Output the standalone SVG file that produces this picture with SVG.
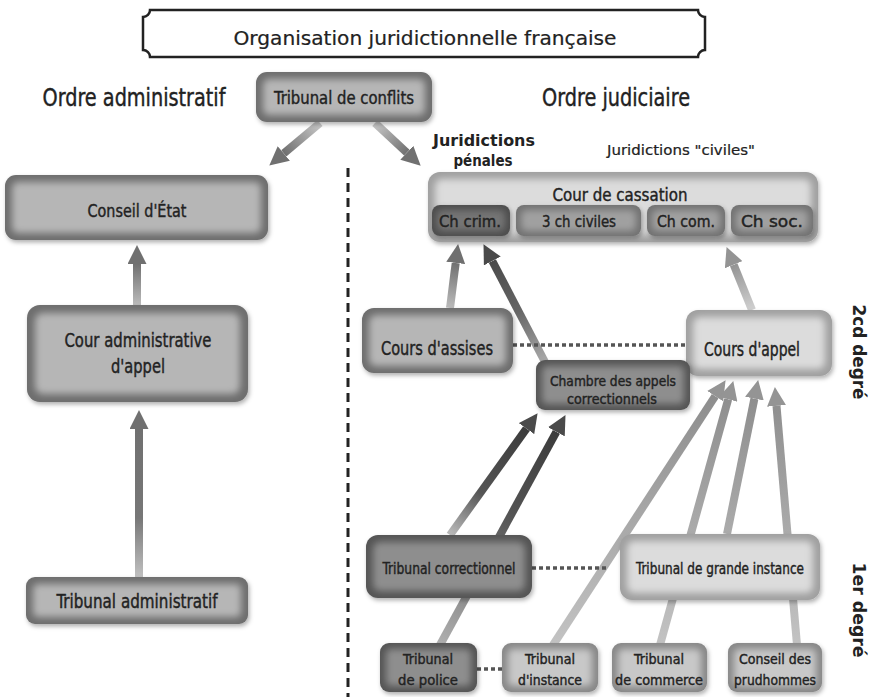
<svg xmlns="http://www.w3.org/2000/svg" width="870" height="697" viewBox="0 0 870 697">
<defs>
<style>
text{font-family:"DejaVu Sans Condensed","DejaVu Sans",sans-serif;fill:#222;stroke:#222;stroke-width:0.4;text-anchor:middle}
.b{font-family:"DejaVu Sans",sans-serif;font-weight:bold;stroke:none}
.t{stroke-width:0.2}
.o{filter:url(#sh)}
.i{filter:url(#bl)}
.k1 .o{fill:#555}.k1 .i{fill:#8e8e8e}
.kc .o{fill:#4e4e4e}.kc .i{fill:#747474}
.k2 .o{fill:#6e6e6e}.k2 .i{fill:#b6b6b6}
.km .o{fill:#727272}.km .i{fill:#a0a0a0}
.k4 .o{fill:#888}.k4 .i{fill:#c8c8c8}
.k3 .o{fill:#a0a0a0}.k3 .i{fill:#dcdcdc}
.sh{fill:none;stroke-width:8}
.dot{fill:none;stroke:#555;stroke-width:3.5;stroke-dasharray:4 3}
</style>
<filter id="sh" x="-10%" y="-10%" width="120%" height="130%"><feDropShadow dx="1.5" dy="2.5" stdDeviation="2" flood-color="#000" flood-opacity="0.3"/></filter>
<filter id="bl" x="-20%" y="-40%" width="140%" height="180%"><feGaussianBlur stdDeviation="3.5"/></filter>
<marker id="hD" viewBox="0 0 10 10" refX="0" refY="5" markerWidth="19" markerHeight="19" markerUnits="userSpaceOnUse" orient="auto"><path d="M0,0 L10,5 L0,10 z" fill="#4a4a4a"/></marker>
<marker id="hM" viewBox="0 0 10 10" refX="0" refY="5" markerWidth="19" markerHeight="19" markerUnits="userSpaceOnUse" orient="auto"><path d="M0,0 L10,5 L0,10 z" fill="#707070"/></marker>
<marker id="hL" viewBox="0 0 10 10" refX="0" refY="5" markerWidth="19" markerHeight="19" markerUnits="userSpaceOnUse" orient="auto"><path d="M0,0 L10,5 L0,10 z" fill="#949494"/></marker>
<linearGradient id="g1" gradientUnits="userSpaceOnUse" x1="320" y1="123" x2="284" y2="153"><stop offset="0" stop-color="#c8c8c8"/><stop offset="1" stop-color="#707070"/></linearGradient>
<linearGradient id="g2" gradientUnits="userSpaceOnUse" x1="375" y1="123" x2="407" y2="153"><stop offset="0" stop-color="#c8c8c8"/><stop offset="1" stop-color="#707070"/></linearGradient>
<linearGradient id="g3" gradientUnits="userSpaceOnUse" x1="0" y1="305" x2="0" y2="264"><stop offset="0" stop-color="#bbb"/><stop offset="1" stop-color="#707070"/></linearGradient>
<linearGradient id="g4" gradientUnits="userSpaceOnUse" x1="0" y1="577" x2="0" y2="429"><stop offset="0" stop-color="#c0c0c0"/><stop offset="0.4" stop-color="#777"/><stop offset="1" stop-color="#707070"/></linearGradient>
<linearGradient id="g5" gradientUnits="userSpaceOnUse" x1="450" y1="308" x2="456" y2="263"><stop offset="0" stop-color="#bbb"/><stop offset="1" stop-color="#707070"/></linearGradient>
<linearGradient id="g6" gradientUnits="userSpaceOnUse" x1="545" y1="362" x2="492" y2="261"><stop offset="0" stop-color="#aaa"/><stop offset="0.5" stop-color="#666"/><stop offset="1" stop-color="#4a4a4a"/></linearGradient>
<linearGradient id="g7" gradientUnits="userSpaceOnUse" x1="752" y1="310" x2="734" y2="265"><stop offset="0" stop-color="#d0d0d0"/><stop offset="1" stop-color="#949494"/></linearGradient>
<linearGradient id="g8" gradientUnits="userSpaceOnUse" x1="450" y1="535" x2="526" y2="429"><stop offset="0" stop-color="#bbb"/><stop offset="0.4" stop-color="#555"/><stop offset="1" stop-color="#3c3c3c"/></linearGradient>
<linearGradient id="g9" gradientUnits="userSpaceOnUse" x1="440" y1="645" x2="556" y2="432"><stop offset="0" stop-color="#b0b0b0"/><stop offset="0.6" stop-color="#555"/><stop offset="1" stop-color="#3c3c3c"/></linearGradient>
<linearGradient id="gL" gradientUnits="userSpaceOnUse" x1="0" y1="650" x2="0" y2="390"><stop offset="0" stop-color="#c4c4c4"/><stop offset="1" stop-color="#8c8c8c"/></linearGradient>
</defs>
<rect width="870" height="697" fill="#fff"/>

<g id="title">
<path d="M150,10 H698 A7,7 0 0 0 705,17 V50 A7,7 0 0 0 698,57 H150 A7,7 0 0 0 143,50 V17 A7,7 0 0 0 150,10 Z" fill="#fff" stroke="#222" stroke-width="2.5"/>
<text class="t" x="425" y="45" font-size="20" textLength="383" lengthAdjust="spacingAndGlyphs">Organisation juridictionnelle française</text>
</g>
<g id="labels">
<text x="134" y="106" font-size="25" textLength="183" lengthAdjust="spacingAndGlyphs">Ordre administratif</text>
<text x="616" y="106" font-size="25" textLength="148" lengthAdjust="spacingAndGlyphs">Ordre judiciaire</text>
<text class="b" x="484" y="146" font-size="15" textLength="102" lengthAdjust="spacingAndGlyphs">Juridictions</text>
<text class="b" x="483" y="166" font-size="15" textLength="59" lengthAdjust="spacingAndGlyphs">pénales</text>
<text class="t" x="681" y="155" font-size="14" textLength="148" lengthAdjust="spacingAndGlyphs">Juridictions "civiles"</text>
<text class="b" transform="translate(853,352) rotate(90)" font-size="17" textLength="95" lengthAdjust="spacingAndGlyphs">2cd degré</text>
<text class="b" transform="translate(853,610) rotate(90)" font-size="17" textLength="95" lengthAdjust="spacingAndGlyphs">1er degré</text>
</g>
<line id="separator" x1="348" y1="168" x2="348" y2="697" stroke="#222" stroke-width="3" stroke-dasharray="9 6"/>

<g id="connectors">
<line class="sh" x1="320" y1="123" x2="283.8" y2="153.4" stroke="url(#g1)" marker-end="url(#hM)"/>
<line class="sh" x1="375" y1="123" x2="406.8" y2="152.7" stroke="url(#g2)" marker-end="url(#hM)"/>
<line class="sh" x1="137" y1="305" x2="137" y2="264" stroke="url(#g3)" marker-end="url(#hM)"/>
<line class="sh" x1="139" y1="577" x2="139" y2="429" stroke="url(#g4)" marker-end="url(#hM)"/>
<line class="sh" x1="450" y1="308" x2="455.7" y2="262.9" stroke="url(#g5)" marker-end="url(#hM)"/>
<line class="sh" x1="545" y1="362" x2="492.3" y2="261" stroke="url(#g6)" marker-end="url(#hD)"/>
<line class="sh" x1="752" y1="310" x2="733.7" y2="264.7" stroke="url(#g7)" marker-end="url(#hL)"/>
<line class="sh" x1="450" y1="535" x2="526.5" y2="428.6" stroke="url(#g8)" marker-end="url(#hD)"/>
<line class="sh" x1="440" y1="645" x2="556.4" y2="431.8" stroke="url(#g9)" marker-end="url(#hD)"/>
<line class="sh" x1="553" y1="645" x2="715.2" y2="396.1" stroke="url(#gL)" marker-end="url(#hL)"/>
<line class="sh" x1="660" y1="645" x2="728.2" y2="399.3" stroke="url(#gL)" marker-end="url(#hL)"/>
<line class="sh" x1="727" y1="534" x2="754.4" y2="398.6" stroke="url(#gL)" marker-end="url(#hL)"/>
<line class="sh" x1="797" y1="645" x2="776.5" y2="405.9" stroke="url(#gL)" marker-end="url(#hL)"/>
<line class="dot" x1="513" y1="345" x2="686" y2="345"/>
<line class="dot" x1="532" y1="568" x2="606" y2="568"/>
<line class="dot" x1="477" y1="669" x2="502" y2="669"/>
</g>

<g id="tribunal-conflits" class="k2">
<rect class="o" x="256" y="72" width="176" height="50" rx="11"/>
<rect class="i" x="263" y="79" width="162" height="36" rx="6"/>
<text x="344" y="104" font-size="18" textLength="140" lengthAdjust="spacingAndGlyphs">Tribunal de conflits</text>
</g>
<g id="conseil-etat" class="k2">
<rect class="o" x="5" y="175" width="263" height="65" rx="11"/>
<rect class="i" x="12" y="182" width="249" height="51" rx="6"/>
<text x="137" y="217" font-size="18" textLength="99" lengthAdjust="spacingAndGlyphs">Conseil d'État</text>
</g>
<g id="cour-admin-appel" class="k2">
<rect class="o" x="27" y="305" width="221" height="97" rx="13"/>
<rect class="i" x="35" y="313" width="205" height="81" rx="8"/>
<text x="138" y="347" font-size="19" textLength="147" lengthAdjust="spacingAndGlyphs">Cour administrative</text>
<text x="138" y="373" font-size="19" textLength="54" lengthAdjust="spacingAndGlyphs">d'appel</text>
</g>
<g id="tribunal-admin" class="k2">
<rect class="o" x="26" y="577" width="222" height="47" rx="9"/>
<rect class="i" x="33" y="584" width="208" height="33" rx="5"/>
<text x="137" y="608" font-size="19" textLength="161" lengthAdjust="spacingAndGlyphs">Tribunal administratif</text>
</g>

<g id="cour-cassation" class="k3">
<rect class="o" x="428" y="172" width="390" height="70" rx="12"/>
<rect class="i" x="435" y="179" width="376" height="56" rx="7"/>
<text x="620" y="201" font-size="18" textLength="135" lengthAdjust="spacingAndGlyphs">Cour de cassation</text>
</g>
<g id="ch-crim" class="kc">
<rect class="o" x="432" y="205" width="78" height="31" rx="8"/>
<rect class="i" x="437" y="210" width="68" height="21" rx="5"/>
<text x="470" y="227" font-size="16" textLength="62" lengthAdjust="spacingAndGlyphs">Ch crim.</text>
</g>
<g id="ch-civiles" class="km">
<rect class="o" x="516" y="205" width="125" height="31" rx="8"/>
<rect class="i" x="521" y="210" width="115" height="21" rx="5"/>
<text x="579" y="227" font-size="16" textLength="74" lengthAdjust="spacingAndGlyphs">3 ch civiles</text>
</g>
<g id="ch-com" class="km">
<rect class="o" x="647" y="205" width="78" height="31" rx="8"/>
<rect class="i" x="652" y="210" width="68" height="21" rx="5"/>
<text x="686" y="227" font-size="16" textLength="58" lengthAdjust="spacingAndGlyphs">Ch com.</text>
</g>
<g id="ch-soc" class="km">
<rect class="o" x="731" y="205" width="82" height="31" rx="8"/>
<rect class="i" x="736" y="210" width="72" height="21" rx="5"/>
<text x="772" y="227" font-size="16" textLength="62" lengthAdjust="spacingAndGlyphs">Ch soc.</text>
</g>

<g id="cours-assises" class="k2">
<rect class="o" x="362" y="308" width="151" height="65" rx="12"/>
<rect class="i" x="369" y="315" width="137" height="51" rx="7"/>
<text x="437" y="355" font-size="19" textLength="112" lengthAdjust="spacingAndGlyphs">Cours d'assises</text>
</g>
<g id="cours-appel" class="k3">
<rect class="o" x="686" y="310" width="146" height="66" rx="12"/>
<rect class="i" x="693" y="317" width="132" height="52" rx="7"/>
<text x="752" y="356" font-size="19" textLength="96" lengthAdjust="spacingAndGlyphs">Cours d'appel</text>
</g>
<g id="chambre-appels" class="k1">
<rect class="o" x="536" y="360" width="154" height="50" rx="9"/>
<rect class="i" x="542" y="366" width="142" height="38" rx="5"/>
<text x="613" y="386" font-size="14.5" textLength="126" lengthAdjust="spacingAndGlyphs">Chambre des appels</text>
<text x="612" y="404" font-size="14.5" textLength="90" lengthAdjust="spacingAndGlyphs">correctionnels</text>
</g>

<g id="tribunal-correctionnel" class="k1">
<rect class="o" x="366" y="535" width="166" height="63" rx="12"/>
<rect class="i" x="373" y="542" width="152" height="49" rx="7"/>
<text x="449" y="574" font-size="15.5" textLength="133" lengthAdjust="spacingAndGlyphs">Tribunal correctionnel</text>
</g>
<g id="tgi" class="k3">
<rect class="o" x="620" y="534" width="200" height="66" rx="12"/>
<rect class="i" x="627" y="541" width="186" height="52" rx="7"/>
<text x="720" y="574" font-size="15.5" textLength="168" lengthAdjust="spacingAndGlyphs">Tribunal de grande instance</text>
</g>

<g id="tribunal-police" class="k1">
<rect class="o" x="380" y="643" width="97" height="49" rx="9"/>
<rect class="i" x="386" y="649" width="85" height="37" rx="5"/>
<text x="428" y="664" font-size="14.5" textLength="50" lengthAdjust="spacingAndGlyphs">Tribunal</text>
<text x="428" y="685" font-size="14.5" textLength="60" lengthAdjust="spacingAndGlyphs">de police</text>
</g>
<g id="tribunal-instance" class="k4">
<rect class="o" x="502" y="643" width="96" height="49" rx="9"/>
<rect class="i" x="508" y="649" width="84" height="37" rx="5"/>
<text x="550" y="664" font-size="14.5" textLength="50" lengthAdjust="spacingAndGlyphs">Tribunal</text>
<text x="550" y="685" font-size="14.5" textLength="64" lengthAdjust="spacingAndGlyphs">d'instance</text>
</g>
<g id="tribunal-commerce" class="k4">
<rect class="o" x="612" y="643" width="95" height="49" rx="9"/>
<rect class="i" x="618" y="649" width="83" height="37" rx="5"/>
<text x="659" y="664" font-size="14.5" textLength="50" lengthAdjust="spacingAndGlyphs">Tribunal</text>
<text x="659" y="685" font-size="14.5" textLength="88" lengthAdjust="spacingAndGlyphs">de commerce</text>
</g>
<g id="conseil-prudhommes" class="k4">
<rect class="o" x="728" y="643" width="94" height="49" rx="9"/>
<rect class="i" x="734" y="649" width="82" height="37" rx="5"/>
<text x="775" y="664" font-size="14.5" textLength="72" lengthAdjust="spacingAndGlyphs">Conseil des</text>
<text x="775" y="685" font-size="14.5" textLength="82" lengthAdjust="spacingAndGlyphs">prudhommes</text>
</g>
</svg>
